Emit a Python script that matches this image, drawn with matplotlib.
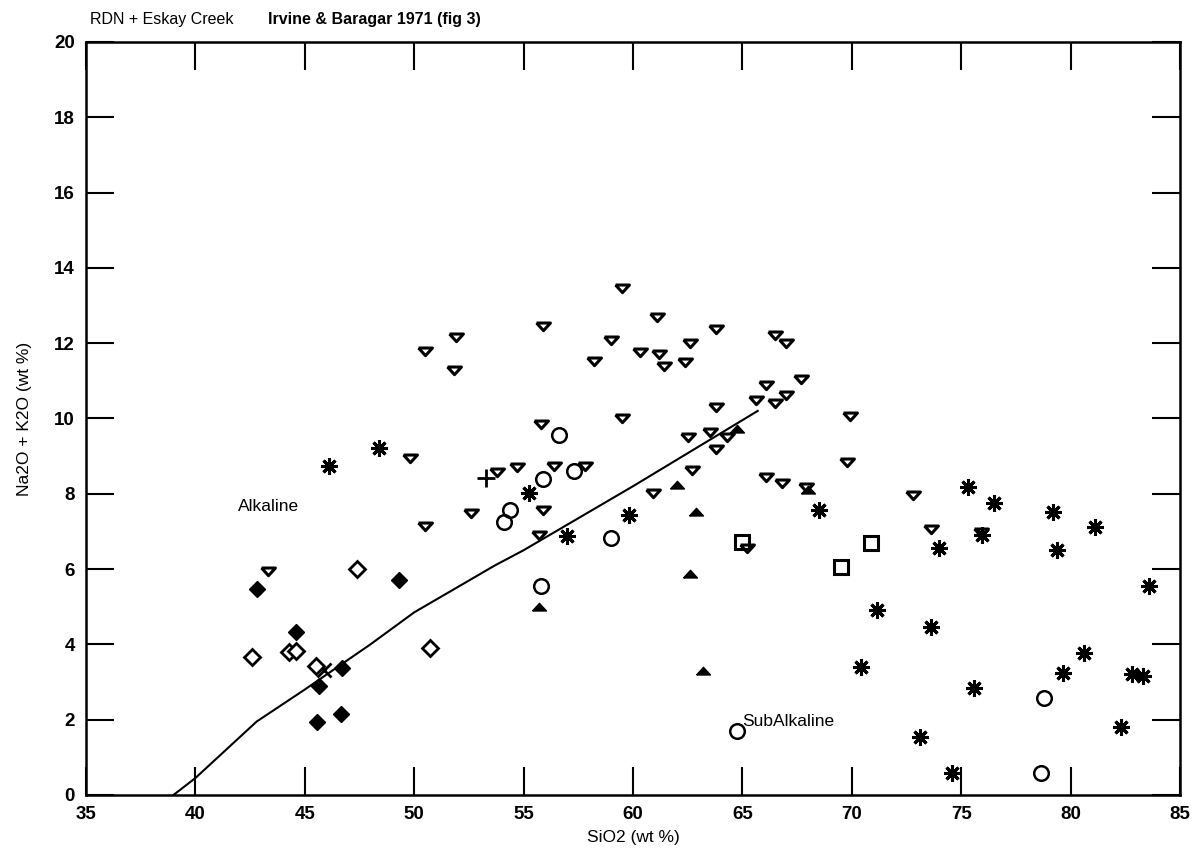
import matplotlib
matplotlib.use("Agg")
import matplotlib.pyplot as plt

plt.rcParams['font.family'] = ['Liberation Sans Narrow', 'Liberation Sans', 'DejaVu Sans']

# %% Data (SiO2, Na2O+K2O)
line_x = [39.0, 40.0, 42.8, 45.0, 48.0, 50.0, 53.7, 55.0, 60.0, 65.7]
line_y = [0.0, 0.45, 1.95, 2.8, 4.0, 4.85, 6.1, 6.5, 8.2, 10.2]

tri_dn_x = [43.3, 49.8, 50.5, 50.5, 51.9, 51.8, 52.6, 53.8, 54.7, 55.8, 55.9, 55.7,
            55.9, 56.4, 57.8, 58.2, 59.0, 59.5, 59.5, 60.3, 61.1, 61.2, 61.4, 62.4,
            62.6, 63.8, 63.8, 62.5, 63.5, 64.3, 63.8, 62.7, 60.9, 66.5, 67.0, 67.7,
            66.1, 65.6, 66.5, 67.0, 69.9, 69.8, 66.1, 66.8, 67.9, 72.8, 73.6, 65.2,
            75.9]
tri_dn_y = [5.95, 8.95, 7.14, 11.79, 12.16, 11.29, 7.49, 8.58, 8.71, 9.85, 7.57, 6.91,
            12.46, 8.74, 8.74, 11.53, 12.09, 13.47, 10.01, 11.77, 12.70, 11.71, 11.39, 11.50,
            12.01, 12.38, 10.31, 9.51, 9.64, 9.51, 9.19, 8.63, 8.02, 12.22, 12.01, 11.05,
            10.89, 10.49, 10.41, 10.62, 10.07, 8.84, 8.45, 8.29, 8.18, 7.97, 7.07, 6.56,
            6.99]

tri_up_x = [64.75, 62.0, 62.9, 62.6, 63.2, 55.7, 68.0]
tri_up_y = [9.72, 8.23, 7.52, 5.87, 3.29, 4.99, 8.10]

circ_x = [56.6, 55.9, 57.3, 54.4, 54.1, 55.8, 59.0, 64.75, 78.8, 78.65]
circ_y = [9.56, 8.39, 8.61, 7.57, 7.25, 5.55, 6.83, 1.70, 2.58, 0.58]

star_x = [46.1, 48.4, 55.25, 57.0, 59.8, 68.5, 75.3, 76.5, 79.2, 81.1, 74.0, 75.95,
          79.4, 83.6, 71.15, 73.6, 70.4, 80.6, 79.65, 75.6, 82.8, 83.3, 82.3, 73.1, 74.6]
star_y = [8.74, 9.22, 8.02, 6.88, 7.44, 7.57, 8.18, 7.76, 7.52, 7.12, 6.56, 6.91,
          6.51, 5.55, 4.91, 4.46, 3.40, 3.77, 3.24, 2.84, 3.21, 3.16, 1.81, 1.54, 0.58]

sq_x = [65.0, 70.9, 69.5]
sq_y = [6.72, 6.69, 6.06]

plus_x = [53.3]
plus_y = [8.42]
cross_x = [45.9]
cross_y = [3.32]

dia_f_x = [42.8, 49.3, 44.6, 46.7, 45.65, 45.55, 46.65]
dia_f_y = [5.47, 5.71, 4.33, 3.37, 2.90, 1.94, 2.15]

dia_o_x = [47.4, 42.6, 44.3, 44.6, 50.7, 45.5]
dia_o_y = [6.00, 3.67, 3.80, 3.82, 3.90, 3.43]

# flattened down-pointing triangle like the old plotter symbol
flat_v = [(-1.0, 0.5), (1.0, 0.5), (0.0, -0.6), (-1.0, 0.5)]
flat_up = [(-1.0, -0.5), (1.0, -0.5), (0.0, 0.6), (-1.0, -0.5)]

# %% Plot
fig = plt.figure(figsize=(12.01, 8.56), dpi=100)
ax = fig.add_axes([0.0716, 0.0713, 0.9109, 0.8797])

ax.plot(line_x, line_y, color='black', lw=1.5)

ax.plot(tri_dn_x, tri_dn_y, marker=flat_v, ms=10, mfc='white', mec='black', mew=2.2, ls='none')
ax.plot(tri_up_x, tri_up_y, marker=flat_up, ms=10, mfc='black', mec='black', ls='none')
ax.plot(circ_x, circ_y, 'o', ms=10.5, mfc='none', mec='black', mew=1.8, ls='none')
ax.plot(star_x, star_y, marker=(8, 2, 0), ms=12, color='black', mew=2.2, ls='none')
ax.plot(sq_x, sq_y, 's', ms=9.5, mfc='none', mec='black', mew=2.2, ls='none')
ax.plot(plus_x, plus_y, '+', ms=13, color='black', mew=2.0, ls='none')
ax.plot(cross_x, cross_y, 'x', ms=10, color='black', mew=2.0, ls='none')
ax.plot(dia_f_x, dia_f_y, 'D', ms=8, mfc='black', mec='black', ls='none')
ax.plot(dia_o_x, dia_o_y, 'D', ms=8, mfc='white', mec='black', mew=2.0, ls='none')

ax.text(41.95, 7.65, 'Alkaline', fontsize=12.5, va='center')
ax.text(65.0, 1.95, 'SubAlkaline', fontsize=12.5, va='center')

ax.set_xlim(35, 85)
ax.set_ylim(0, 20)
ax.set_xticks(range(35, 86, 5))
ax.set_yticks(range(0, 21, 2))
ax.tick_params(direction='in', length=20, width=1.5, top=True, right=True,
               labelsize=13.5, pad=8)
for lab in ax.get_xticklabels() + ax.get_yticklabels():
    lab.set_fontweight('bold')
for sp in ax.spines.values():
    sp.set_linewidth(1.8)

ax.set_xlabel('SiO2 (wt %)', fontsize=12.5, labelpad=5)
ax.set_ylabel('Na2O + K2O (wt %)', fontsize=12.5, labelpad=16)

fig.text(0.075, 0.977, 'RDN + Eskay Creek', fontsize=11.5, va='center')
fig.text(0.223, 0.977, 'Irvine & Baragar 1971 (fig 3)', fontsize=11.5,
         fontweight='bold', va='center')

fig.savefig('out.png', dpi=100)
